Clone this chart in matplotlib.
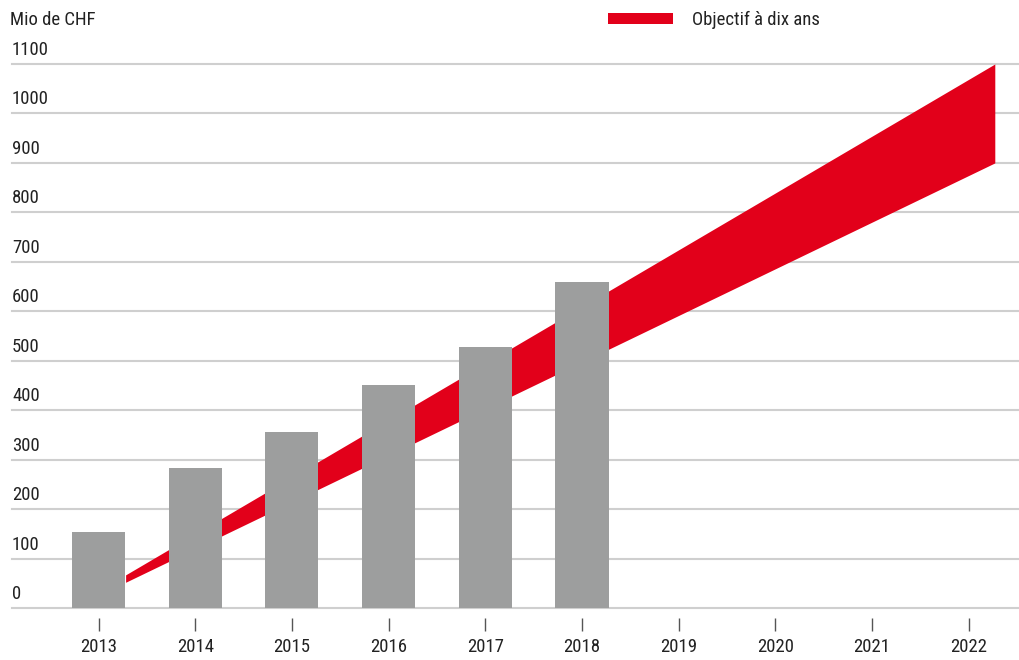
import matplotlib
matplotlib.use("Agg")
import matplotlib.pyplot as plt
import matplotlib.transforms as mtransforms
from matplotlib.patches import Patch
from matplotlib import font_manager

years = [2013, 2014, 2015, 2016, 2017, 2018, 2019, 2020, 2021, 2022]
bar_years = [2013, 2014, 2015, 2016, 2017, 2018]
bar_values = [154, 283, 356, 451, 528, 659]
band_x = [2013.28, 2022.27]
band_low = [52, 900]
band_high = [67, 1100]
y_ticks = [0, 100, 200, 300, 400, 500, 600, 700, 800, 900, 1000, 1100]
y_unit = "Mio de CHF"
legend_label = "Objectif à dix ans"

available = {f.name for f in font_manager.fontManager.ttflist}
prefs = ['Liberation Sans Narrow', 'DejaVu Sans Condensed', 'Roboto Condensed',
         'Open Sans Condensed', 'Liberation Sans']
fam = [p for p in prefs if p in available] + ['DejaVu Sans']
plt.rcParams['font.family'] = fam
narrow = fam[0] in ('Liberation Sans Narrow', 'Roboto Condensed', 'Open Sans Condensed')
fs = 13.5 if narrow else 12.5

text_color = "#222222"
grey = "#9d9e9e"
red = "#e2001a"
grid_c = "#cfcfcf"

fig = plt.figure(figsize=(10.2, 6.6), dpi=100)
ax = fig.add_axes([12/1020, 1 - 608/660, (1018 - 12)/1020, (608 - 64)/660])

ax.set_xlim(2012.105, 2022.51)
ax.set_ylim(0, 1100)

for v in y_ticks:
    ax.axhline(v, color=grid_c, lw=1.5, zorder=0, clip_on=False)

ax.fill_between(band_x, band_low, band_high, color=red, lw=0, zorder=1)
ax.bar(bar_years, bar_values, width=0.55, color=grey, zorder=2)

trans = mtransforms.blended_transform_factory(ax.transAxes, ax.transData)
off = mtransforms.ScaledTranslation(0, 5/100, fig.dpi_scale_trans)
for v in y_ticks:
    ax.text(0, v, str(v), transform=trans + off, ha='left', va='bottom',
            fontsize=fs, color=text_color)

ax.set_yticks([])
ax.set_xticks(years)
ax.set_xticklabels([str(y) for y in years])
for s in ['top', 'right', 'left']:
    ax.spines[s].set_visible(False)
ax.spines['bottom'].set_position(('outward', 7.2))
ax.spines['bottom'].set_visible(False)
ax.tick_params(axis='x', length=9.5, width=1, color="#555555", pad=5,
               labelsize=fs, labelcolor=text_color)

fig.text(10/1020, 1 - 20/660, y_unit, ha='left', va='center', fontsize=fs, color=text_color)

handle = Patch(facecolor=red, edgecolor='none')
fig.legend([handle], [legend_label], loc='center left',
           bbox_to_anchor=(608/1020, 1 - 20/660), frameon=False,
           borderpad=0, borderaxespad=0, handlelength=65/(fs*100/72),
           handleheight=11/(fs*100/72),
           handletextpad=19/(fs*100/72), prop={'size': fs})
for t in fig.legends[0].get_texts():
    t.set_color(text_color)

fig.savefig("out.png", dpi=100)
